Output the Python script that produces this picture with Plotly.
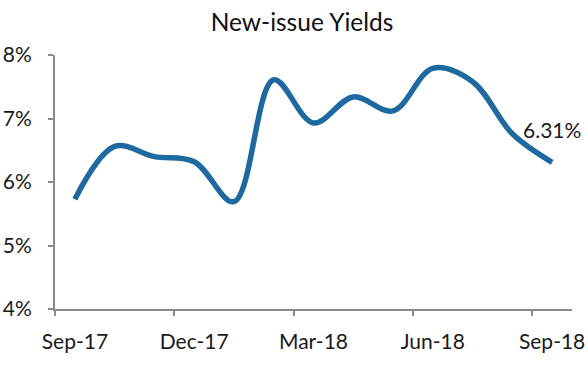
import plotly.graph_objects as go

months = ["Sep-17", "Oct-17", "Nov-17", "Dec-17", "Jan-18", "Feb-18", "Mar-18",
          "Apr-18", "May-18", "Jun-18", "Jul-18", "Aug-18", "Sep-18"]
yields = [5.73, 6.56, 6.40, 6.32, 5.69, 7.61, 6.93, 7.34, 7.12, 7.79, 7.58, 6.76, 6.31]
label_months = ["Sep-17", "Dec-17", "Mar-18", "Jun-18", "Sep-18"]
y_ticks = [4, 5, 6, 7, 8]

idx = list(range(len(months)))
label_idx = [months.index(m) for m in label_months]
boundaries = [i - 0.5 for i in label_idx]

fig = go.Figure()
fig.add_trace(go.Scatter(
    x=idx, y=yields, mode="lines",
    line=dict(color="#1D69A0", width=5.5, shape="spline", smoothing=1.0),
    hoverinfo="skip", showlegend=False,
))

fig.add_annotation(
    x=idx[-1], y=yields[-1], text=f"{yields[-1]:.2f}%", showarrow=False,
    yshift=33, font=dict(size=21, color="#1a1a1a", family="Lato"),
)

axis_col = "#8a8a8a"
W, H = 588, 369
fig.update_layout(
    width=W, height=H,
    margin=dict(l=55, r=16, t=55, b=60, autoexpand=False),
    paper_bgcolor="white", plot_bgcolor="white",
    font=dict(family="Lato", color="#1a1a1a", size=21),
    title=dict(text="New-issue Yields", x=302 / W, xanchor="center", y=1 - 22 / H, yanchor="middle",
               font=dict(size=24.5, family="Lato", color="#111"), automargin=False),
    xaxis=dict(
        range=[-0.5, len(months) - 0.5], tickvals=label_idx, ticktext=label_months,
        ticks="", showgrid=False, zeroline=False, automargin=False,
        showline=True, linecolor=axis_col, linewidth=2,
        minor=dict(tickvals=boundaries, ticks="outside", ticklen=5, tickwidth=2, tickcolor=axis_col,
                   showgrid=False),
        tickfont=dict(size=21), ticklabelstandoff=13,
    ),
    yaxis=dict(
        range=[4, 8], tickvals=y_ticks, ticktext=[f"{v}%" for v in y_ticks],
        ticks="outside", ticklen=5, tickwidth=2, tickcolor=axis_col,
        showgrid=False, zeroline=False, automargin=False,
        showline=True, linecolor=axis_col, linewidth=2,
        tickfont=dict(size=21), ticklabelstandoff=12,
    ),
)

fig.write_html("out.html", config={"displayModeBar": False},
               post_script="document.body.style.margin='0';")
